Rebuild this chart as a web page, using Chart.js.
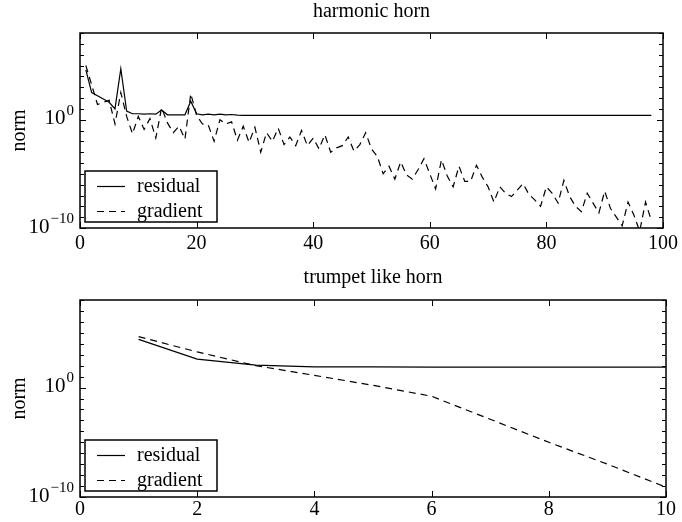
<!DOCTYPE html>
<html><head><meta charset="utf-8">
<script src="https://cdn.jsdelivr.net/npm/chart.js@4.4.1/dist/chart.umd.min.js"></script>
<style>
html,body{margin:0;padding:0;background:#fff;}
#wrap{position:relative;width:682px;height:522px;background:#fff;}
.c{position:absolute;left:0;width:682px;height:261px;}
</style></head><body>
<div id="wrap">
<div class="c" style="top:0"><canvas id="c1"></canvas></div>
<div class="c" style="top:261px"><canvas id="c2"></canvas></div>
</div>
<script>
// ---------- data ----------
const titles = ['harmonic horn', 'trumpet like horn'];
const seriesNames = ['residual', 'gradient'];
const yLabel = 'norm';

const harmonicIter = [
  1,2,3,4,5,6,7,8,9,10, 11,12,13,14,15,16,17,18,19,20,
  21,22,23,24,25,26,27,28,29,30, 31,32,33,34,35,36,37,38,39,40,
  41,42,43,44,45,46,47,48,49,50, 51,52,53,54,55,56,57,58,59,60,
  61,62,63,64,65,66,67,68,69,70, 71,72,73,74,75,76,77,78,79,80,
  81,82,83,84,85,86,87,88,89,90, 91,92,93,94,95,96,97,98
];
const harmonicResidual = [
  4e4, 3.2e2, 1.6e2, 8e1, 4e1, 1e1, 5e4, 6.3, 3.5, 3.5,
  3.2, 3.5, 3.2, 7.9, 2.8, 2.8, 2.8, 2.8, 5e1, 3.5,
  2.8, 3.2, 2.8, 3.2, 2.8, 3.0, 2.6, 2.5, 2.5, 2.5,
  2.5, 2.5, 2.5, 2.5, 2.5, 2.5, 2.5, 2.5, 2.5, 2.5,
  2.5, 2.5, 2.5, 2.5, 2.5, 2.5, 2.5, 2.5, 2.5, 2.5,
  2.5, 2.5, 2.5, 2.5, 2.5, 2.5, 2.5, 2.5, 2.5, 2.5,
  2.5, 2.5, 2.5, 2.5, 2.5, 2.5, 2.5, 2.5, 2.5, 2.5,
  2.5, 2.5, 2.5, 2.5, 2.5, 2.5, 2.5, 2.5, 2.5, 2.5,
  2.5, 2.5, 2.5, 2.5, 2.5, 2.5, 2.5, 2.5, 2.5, 2.5,
  2.5, 2.5, 2.5, 2.5, 2.5, 2.5, 2.5, 2.5
];
const harmonicGradient = [
  1e5, 1.6e3, 2.5e1, 4e1, 6.3e1, 4e-1, 3.2e2, 2, 5e-2, 2,
  1.26e-1, 1.26, 2e-2, 1.26e1, 5e-1, 6.3e-2, 2.5e-1, 1.6e-2, 2.5e2, 2.5,
  4e-1, 3.2e-1, 1e-2, 1, 4e-1, 6.3e-1, 1.26e-2, 2.5e-1, 7.9e-3, 2e-1,
  1e-3, 6.3e-2, 1e-2, 1.6e-1, 5e-3, 2.5e-2, 4e-3, 1e-1, 4e-3, 2e-2,
  2e-3, 4e-2, 1e-3, 2.5e-3, 4e-3, 2.5e-2, 1.26e-3, 5e-3, 6.3e-2, 2e-3,
  4e-4, 1e-5, 5e-5, 3.2e-6, 1.26e-4, 7.9e-6, 3.2e-6, 2.5e-5, 2.5e-4, 1e-5,
  4e-7, 2e-4, 6.3e-6, 6.3e-7, 5e-5, 2e-6, 2e-6, 6.3e-5, 5e-6, 6.3e-7,
  2.5e-8, 6.3e-7, 1.6e-7, 7.9e-8, 3.2e-7, 1.26e-6, 1.26e-7, 4e-8, 1e-8, 6.3e-7,
  1.6e-7, 2e-8, 2.5e-6, 7.9e-8, 1e-8, 3.2e-9, 1.6e-7, 2e-8, 2.5e-9, 2.5e-7,
  6.3e-9, 1e-9, 1.6e-10, 2.5e-8, 1.6e-9, 5e-11, 2.5e-8, 5e-10
];

const trumpetIter = [1,2,3,4,5,6,7,8,9,10];
const trumpetResidual = [2.5e4, 4e2, 1.1e2, 7.9e1, 7.6e1, 7.5e1, 7.5e1, 7.5e1, 7.5e1, 7.5e1];
const trumpetGradient = [4.5e4, 1.8e3, 1e2, 1.3e1, 1.6, 1.6e-1, 1.26e-3, 1e-5, 1e-7, 7.9e-10];

const xRanges = [[0, 100, 20], [0, 10, 2]];
const yRange = [1e-10, 1e8];
const yTickValues = [1e-10, 1];
const yTickExponents = ['\u221210', '0'];

// ---------- rendering ----------
const FONT = "'Liberation Serif', 'Times New Roman', serif";

const framePlugin = {
  id: 'matlabFrame',
  afterDraw(chart) {
    const {ctx, chartArea: a, scales: {x, y}} = chart;
    ctx.save();
    ctx.strokeStyle = '#000';
    ctx.lineWidth = 1;
    ctx.beginPath();
    x.ticks.forEach(t => {
      const px = Math.round(x.getPixelForValue(t.value)) + 0.5;
      ctx.moveTo(px, a.bottom); ctx.lineTo(px, a.bottom - 6);
      ctx.moveTo(px, a.top); ctx.lineTo(px, a.top + 6);
    });
    const e0 = Math.round(Math.log10(y.min)), e1 = Math.round(Math.log10(y.max));
    for (let e = e0; e <= e1; e++) {
      const py = Math.round(y.getPixelForValue(Math.pow(10, e))) + 0.5;
      const len = (e % 10 === 0) ? 6 : 4;
      ctx.moveTo(a.left, py); ctx.lineTo(a.left + len, py);
      ctx.moveTo(a.right, py); ctx.lineTo(a.right - len, py);
    }
    ctx.stroke();
    ctx.lineWidth = 1.5;
    ctx.strokeRect(a.left, a.top, a.right - a.left, a.bottom - a.top);

    // y tick labels with superscripts
    ctx.fillStyle = '#000';
    ctx.textBaseline = 'middle';
    ctx.textAlign = 'right';
    yTickValues.forEach((v, i) => {
      const py = y.getPixelForValue(v);
      const rx = a.left - 6;
      ctx.font = '15px ' + FONT;
      const exp = yTickExponents[i];
      const ew = ctx.measureText(exp).width;
      ctx.fillText(exp, rx, py - 9);
      ctx.font = '21px ' + FONT;
      ctx.fillText('10', rx - ew - 1, py - 1);
    });

    // legend box
    const bx = a.left + 5, bw = 132, bh = 51, by = a.bottom - 6 - bh;
    ctx.fillStyle = '#fff';
    ctx.fillRect(bx, by, bw, bh);
    ctx.lineWidth = 1.5;
    ctx.strokeRect(bx, by, bw, bh);
    chart.data.datasets.forEach((ds, i) => {
      const cy = Math.round(by + 15 + i * 25) + 0.5;
      ctx.beginPath();
      ctx.lineWidth = ds.borderWidth;
      ctx.setLineDash(ds.borderDash || []);
      ctx.moveTo(bx + 12, cy); ctx.lineTo(bx + 40, cy);
      ctx.stroke();
      ctx.setLineDash([]);
      ctx.fillStyle = '#000';
      ctx.font = '20px ' + FONT;
      ctx.textAlign = 'left';
      ctx.textBaseline = 'middle';
      ctx.fillText(ds.label, bx + 52, cy);
    });
    ctx.restore();
  }
};

function makeChart(id, title, iters, res, grad, xr, titlePad, xAxisH, tickPad) {
  return new Chart(document.getElementById(id), {
    type: 'line',
    data: {
      labels: iters,
      datasets: [
        {label: seriesNames[0], data: res, borderColor: '#000', borderWidth: 1.2, pointRadius: 0, tension: 0, fill: false},
        {label: seriesNames[1], data: grad, borderColor: '#000', borderWidth: 1.2, borderDash: [7, 5], pointRadius: 0, tension: 0, fill: false}
      ]
    },
    options: {
      responsive: true,
      maintainAspectRatio: false,
      animation: false,
      events: [],
      layout: {padding: {left: 0, right: 16, top: 0, bottom: 0}},
      plugins: {
        legend: {display: false},
        tooltip: {enabled: false},
        title: {display: true, text: title, color: '#000', fullSize: false,
          font: {family: FONT, size: 20, weight: 'normal'}, padding: titlePad}
      },
      scales: {
        x: {
          type: 'linear', min: xr[0], max: xr[1],
          ticks: {stepSize: xr[2], color: '#000', font: {family: FONT, size: 20}, padding: tickPad, maxRotation: 0},
          grid: {display: false, drawTicks: false},
          border: {display: false},
          afterFit: s => { s.height = xAxisH; }
        },
        y: {
          type: 'logarithmic', min: yRange[0], max: yRange[1],
          ticks: {display: false},
          grid: {display: false, drawTicks: false},
          border: {display: false},
          title: {display: true, text: yLabel, color: '#000', font: {family: FONT, size: 20}, padding: {top: 8, bottom: 0}},
          afterFit: s => { s.width = 80; }
        }
      }
    },
    plugins: [framePlugin]
  });
}

makeChart('c1', titles[0], harmonicIter, harmonicResidual, harmonicGradient, xRanges[0], {top: 0, bottom: 9}, 33, 4);
makeChart('c2', titles[1], trumpetIter, trumpetResidual, trumpetGradient, xRanges[1], {top: 5, bottom: 10}, 25, 1);
</script>
</body></html>
